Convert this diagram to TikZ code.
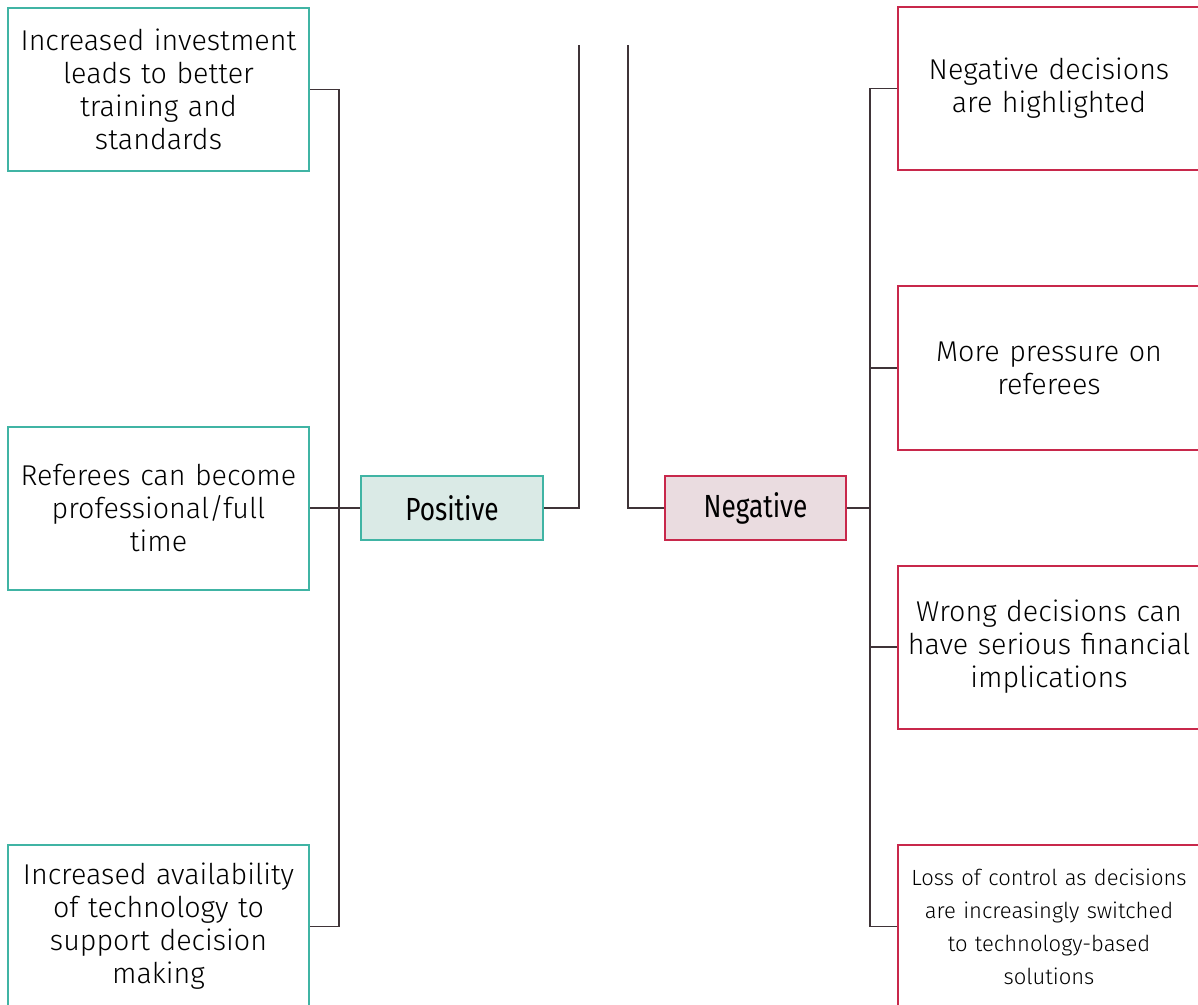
\documentclass[tikz,border=0pt]{standalone}
\usepackage{fontspec}
\setmainfont{Fira Sans Light}
\newfontfamily\labfont{Fira Sans}[FakeStretch=0.82]
\definecolor{teal1}{HTML}{40B4A4}
\definecolor{tealfill}{HTML}{DAEAE6}
\definecolor{red1}{HTML}{C8284B}
\definecolor{redfill}{HTML}{EADCE0}
\definecolor{linec}{HTML}{3F3438}
\tikzset{
  conn/.style={draw=linec, line width=1.4pt},
  bigbox/.style={draw, line width=1.5pt, minimum width=225.75pt, minimum height=122.25pt,
    text width=222pt, align=center, inner sep=1pt,
    font=\fontsize{21.5}{24.75}\selectfont},
  posbox/.style={bigbox, draw=teal1},
  negbox/.style={bigbox, draw=red1, minimum width=226.5pt},
  sumbox/.style={draw, line width=1.5pt, minimum width=136.5pt, minimum height=48pt,
    inner sep=2pt, font=\labfont\fontsize{24}{28}\selectfont},
}
\begin{document}
\begin{tikzpicture}[x=0.75pt,y=-0.75pt]
\useasboundingbox (0,0) rectangle (1198,1005);
% left boxes
\node[posbox] (L1) at (158.5,89.5) {Increased investment\\ leads to better\\ training and\\ standards};
\node[posbox] (L2) at (158.5,508) {Referees can become\\ professional/full\\ time};
\node[posbox] (L3) at (158.5,926.5) {Increased availability\\ of technology to\\ support decision\\ making};
% right boxes
\node[negbox] (R1) at (1049,88.5) {Negative decisions\\ are highlighted};
\node[negbox] (R2) at (1049,368) {More pressure on\\ referees};
\node[negbox] (R3) at (1049,647) {Wrong decisions can\\ have serious financial\\ implications};
\node[negbox, font=\fontsize{16.5}{24.75}\selectfont] (R4) at (1049,926.5) {Loss of control as decisions\\ are increasingly switched\\ to technology-based\\ solutions};
% summary boxes
\node[sumbox, draw=teal1, fill=tealfill] (P) at (452,508) {Positive};
\node[sumbox, draw=red1, fill=redfill, minimum width=135.75pt] (N) at (755.5,508) {Negative};
% coordinates
\coordinate (lt) at (339,0);
\coordinate (rt) at (870,0);
\coordinate (ptop) at (579,45);
\coordinate (ntop) at (628,45);
% connectors
\draw[conn] (L1.east) -- (L1.east -| lt) -- (L3.east -| lt) -- (L3.east);
\draw[conn] (L2.east) -- (P.west);
\draw[conn] (P.east) -| (ptop);
\draw[conn] (N.west) -| (ntop);
\draw[conn] (N.east) -- (N.east -| rt);
\draw[conn] (R1.west) -- (R1.west -| rt) -- (R4.west -| rt) -- (R4.west);
\draw[conn] (R2.west) -- (R2.west -| rt);
\draw[conn] (R3.west) -- (R3.west -| rt);
\end{tikzpicture}
\end{document}
